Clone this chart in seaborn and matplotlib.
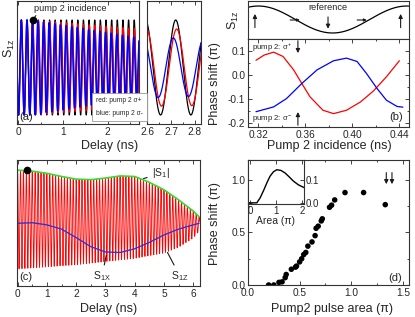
import numpy as np
import matplotlib
matplotlib.use("Agg")
import matplotlib.pyplot as plt
import seaborn as sns
from matplotlib.ticker import MultipleLocator

# ---- panel (a): spin oscillation, pump 2 at 0.32 ns ----
a_period = 0.1263          # ns
a_pump_t = 0.32            # ns
a_end_t = 2.72
a_shift_red = 0.063        # phase shift (pi)
a_shift_blue = -0.156
a_amp_end_red = 0.81
a_amp_end_blue = 0.62

# ---- panel (b): phase shift vs pump 2 incidence ----
b_x_red = [0.318, 0.325, 0.333, 0.341, 0.350, 0.357, 0.364, 0.375, 0.384,
           0.395, 0.407, 0.418, 0.429, 0.440]
b_red = [0.063, 0.085, 0.097, 0.079, 0.023, -0.034, -0.090, -0.146, -0.160,
         -0.146, -0.111, -0.065, -0.006, 0.061]
b_x_blue = [0.318, 0.333, 0.344, 0.357, 0.370, 0.384, 0.395, 0.404, 0.412,
            0.421, 0.429, 0.438, 0.443]
b_blue = [-0.152, -0.132, -0.097, -0.034, 0.023, 0.061, 0.072, 0.058, 0.008,
          -0.055, -0.104, -0.130, -0.133]

# ---- panel (c): S1 components ----
c_period = 0.1
c_t = [0.0, 0.5, 1.0, 1.5, 2.0, 2.5, 3.0, 3.5, 4.0, 4.5, 5.0, 5.5, 6.0, 6.2]
c_abs = [1.00, 0.98, 0.94, 0.88, 0.83, 0.82, 0.85, 0.89, 0.88, 0.77, 0.63, 0.44, 0.23, 0.12]
c_s1x = [0.0, 0.01, -0.03, -0.11, -0.27, -0.44, -0.54, -0.55, -0.48, -0.36, -0.22, -0.11, -0.03, 0.0]
c_low_t = [0.0, 1.0, 2.0, 3.0, 4.0, 5.0, 5.5, 6.0, 6.2]
c_low = [-0.86, -0.82, -0.78, -0.72, -0.66, -0.56, -0.45, -0.28, -0.15]

# ---- panel (d): phase shift vs pump 2 area ----
d_area = [0.20, 0.25, 0.30, 0.33, 0.36, 0.37, 0.42, 0.46, 0.47, 0.50, 0.52,
          0.54, 0.56, 0.58, 0.62, 0.65, 0.66, 0.68, 0.71, 0.72, 0.79, 0.81,
          0.84, 0.94, 1.12, 1.33]
d_shift = [0.0, 0.0, 0.025, 0.03, 0.07, 0.10, 0.15, 0.17, 0.18, 0.22, 0.25,
           0.29, 0.31, 0.37, 0.41, 0.47, 0.54, 0.56, 0.61, 0.63, 0.74, 0.76,
           0.81, 0.88, 0.88, 0.765]
ins_x = [-0.09, 0.0, 0.25, 0.38, 0.51, 0.64, 0.76, 0.89, 1.02, 1.18, 1.34,
         1.50, 1.66, 1.85, 2.07]
ins_y = [0.0, 0.0, 0.0, 0.022, 0.053, 0.087, 0.115, 0.134, 0.143, 0.140,
         0.129, 0.112, 0.094, 0.078, 0.066]

W, H = 415, 317
sns.set_theme(style="ticks")
plt.rcParams['font.family'] = ['Liberation Sans', 'DejaVu Sans']
plt.rcParams.update({
    'mathtext.fontset': 'custom',
    'mathtext.rm': 'Liberation Sans',
    'mathtext.it': 'Liberation Sans:italic',
    'xtick.direction': 'in', 'ytick.direction': 'in',
    'xtick.top': True, 'ytick.right': True,
    'xtick.major.size': 3, 'ytick.major.size': 3,
    'xtick.minor.size': 1.5, 'ytick.minor.size': 1.5,
    'xtick.major.width': 0.6, 'ytick.major.width': 0.6,
    'xtick.minor.width': 0.6, 'ytick.minor.width': 0.6,
    'xtick.major.pad': 2, 'ytick.major.pad': 2,
    'xtick.labelsize': 7.3, 'ytick.labelsize': 7.3,
    'axes.linewidth': 0.8, 'axes.edgecolor': '#333333',
})

fig = plt.figure(figsize=(W / 100, H / 100), dpi=100)


def add_ax(x0, y0, x1, y1):
    return fig.add_axes([x0 / W, 1 - y1 / H, (x1 - x0) / W, (y1 - y0) / H])


def line(ax, x, y, color, lw=0.9):
    sns.lineplot(x=x, y=y, ax=ax, color=color, lw=lw, estimator=None,
                 sort=False, legend=False)


def arrow(ax, start, end, ms=6):
    ax.annotate("", xy=end, xytext=start, xycoords='axes fraction',
                arrowprops=dict(arrowstyle='-|>', lw=0.8, color='k',
                                mutation_scale=ms, shrinkA=0, shrinkB=0))


# ---------- (a) ----------
t = np.linspace(-0.03, 2.83, 5000)
black = np.cos(2 * np.pi * (t - a_pump_t) / a_period)


def pumped(shift_pi, amp_end):
    frac = np.clip((t - a_pump_t) / (a_end_t - a_pump_t), 0, None)
    amp = 1 - (1 - amp_end) * frac
    dt = np.where(t >= a_pump_t, shift_pi / 2 * a_period, 0.0)
    return amp * np.cos(2 * np.pi * (t - a_pump_t - dt) / a_period)


red = pumped(a_shift_red, a_amp_end_red)
blue = pumped(a_shift_blue, a_amp_end_blue)

ax_a = add_ax(17, 1, 139, 124)
ax_a2 = add_ax(147, 1, 201, 124)
for ax, lw_b in ((ax_a, 1.1), (ax_a2, 0.9)):
    line(ax, t, black, 'black')
    line(ax, t, red, 'red')
    line(ax, t, blue, 'blue', lw=lw_b)
    ax.set_ylim(-1.19, 1.40)
    ax.set_yticks([])
    ax.set_xlabel("")
    ax.set_ylabel("")
ax_a.set_xlim(-0.03, 2.70)
ax_a.xaxis.set_major_locator(MultipleLocator(1))
ax_a.xaxis.set_minor_locator(MultipleLocator(0.5))
ax_a2.set_xlim(2.6, 2.825)
ax_a2.set_xticks([2.6, 2.7, 2.8])
ax_a2.xaxis.set_minor_locator(MultipleLocator(0.05))
ax_a.plot([a_pump_t], [1.0], 'o', color='black', ms=4.5, zorder=5)
ax_a.annotate("", xy=(a_pump_t, 1.0), xytext=(0.43, 1.14),
              arrowprops=dict(arrowstyle='-', lw=0.8, color='k'))
ax_a.text(0.35, 1.25, "pump 2 incidence", fontsize=6.7, ha='left', va='center',
          bbox=dict(fc='white', ec='none', pad=0.3))
ax_a.text(0.078, 0.06, "(a)", transform=ax_a.transAxes, fontsize=8,
          ha='center', va='center')
fig.text(96 / W, 1 - 107 / H, "red: pump 2 σ+\nblue: pump 2 σ-", fontsize=4.8,
         ha='left', va='center', linespacing=2.1,
         bbox=dict(boxstyle='square,pad=0.6', fc='white', ec='#999999', lw=0.6))
fig.text(110 / W, 1 - 146 / H, "Delay (ns)", fontsize=9, ha='center', va='center')
fig.text(9 / W, 1 - 48 / H, r"S$_{\mathrm{1z}}$", fontsize=9, rotation=90,
         ha='center', va='center')

# ---------- (b) ----------
ax_b1 = add_ax(248, 1, 409, 39)
tb = np.linspace(0.31, 0.45, 400)
line(ax_b1, tb, np.cos(2 * np.pi * (tb - a_pump_t) / a_period), 'black')
ax_b1.set_xlim(0.3112, 0.4482)
ax_b1.set_ylim(-1.445, 1.372)
ax_b1.set_xticks([])
ax_b1.set_yticks([])
arrow(ax_b1, (0.043, 0.30), (0.043, 0.66))
arrow(ax_b1, (0.948, 0.30), (0.948, 0.66))
arrow(ax_b1, (0.497, 0.58), (0.497, 0.27))
arrow(ax_b1, (0.262, 0.5), (0.322, 0.5), ms=4)
arrow(ax_b1, (0.678, 0.5), (0.738, 0.5), ms=4)
ax_b1.text(0.497, 0.82, "reference", transform=ax_b1.transAxes, fontsize=6.7,
           ha='center', va='center')
fig.text(233 / W, 1 - 20 / H, r"S$_{\mathrm{1z}}$", fontsize=9, rotation=90,
         ha='center', va='center')

ax_b = add_ax(248, 39, 409, 127)
line(ax_b, b_x_red, b_red, 'red')
line(ax_b, b_x_blue, b_blue, 'blue')
ax_b.set_xlim(0.3112, 0.4482)
ax_b.set_ylim(-0.216, 0.152)
ax_b.set_xticks([0.32, 0.36, 0.40, 0.44])
ax_b.set_xticklabels(["0.32", "0.36", "0.40", "0.44"])
ax_b.xaxis.set_minor_locator(MultipleLocator(0.02))
ax_b.set_yticks([-0.2, -0.1, 0.0, 0.1])
ax_b.set_yticklabels(["-0.2", "-0.1", "0.0", "0.1"])
ax_b.yaxis.set_minor_locator(MultipleLocator(0.05))
ax_b.set_xlabel("")
ax_b.set_ylabel("")
ax_b.text(0.025, 0.9, r"pump 2: σ$^{+}$", transform=ax_b.transAxes,
          fontsize=5.6, ha='left', va='center')
ax_b.text(0.025, 0.1, r"pump 2: σ$^{-}$", transform=ax_b.transAxes,
          fontsize=5.6, ha='left', va='center')
arrow(ax_b, (0.31, 0.98), (0.31, 0.84))
arrow(ax_b, (0.31, 0.02), (0.31, 0.17))
ax_b.text(0.92, 0.114, "(b)", transform=ax_b.transAxes, fontsize=8,
          ha='center', va='center')
fig.text(329 / W, 1 - 146 / H, "Pump 2 incidence (ns)", fontsize=9,
         ha='center', va='center')
fig.text(215 / W, 1 - 84 / H, "Phase shift (π)", fontsize=9, rotation=90,
         ha='center', va='center')

# ---------- (c) ----------
tc = np.linspace(0, 6.22, 6000)
up = np.interp(tc, c_t, c_abs)
lo = np.interp(tc, c_low_t, c_low)
s1z = (up + lo) / 2 + (up - lo) / 2 * np.cos(2 * np.pi * tc / c_period)

ax_c = add_ax(17, 160, 200, 286)
line(ax_c, tc, s1z, 'red', lw=0.6)
line(ax_c, c_t, c_s1x, '#3333cc', lw=1.0)
line(ax_c, c_t, c_abs, '#33dd33', lw=1.2)
ax_c.plot([0.32], [1.0], 'o', color='black', ms=4.5, zorder=5)
ax_c.set_xlim(-0.02, 6.23)
ax_c.set_ylim(-1.18, 1.19)
ax_c.set_yticks([])
ax_c.xaxis.set_major_locator(MultipleLocator(1))
ax_c.xaxis.set_minor_locator(MultipleLocator(0.5))
ax_c.set_xlabel("")
ax_c.set_ylabel("")
pointer = dict(arrowstyle='-', lw=0.8, color='k', shrinkA=1, shrinkB=0)
ax_c.annotate("|S$_{1}$|", xy=(4.30, 0.84), xytext=(4.58, 0.94), fontsize=7.5,
              ha='left', va='center', arrowprops=pointer)
ax_c.annotate("S$_{\\mathrm{1X}}$", xy=(3.03, -0.60), xytext=(2.88, -1.0),
              fontsize=7.5, ha='center', va='center', arrowprops=pointer)
ax_c.annotate("S$_{\\mathrm{1Z}}$", xy=(5.12, -0.55), xytext=(5.55, -1.0),
              fontsize=7.5, ha='center', va='center', arrowprops=pointer)
ax_c.text(0.05, 0.07, "(c)", transform=ax_c.transAxes, fontsize=8,
          ha='center', va='center')
fig.text(109 / W, 1 - 309 / H, "Delay (ns)", fontsize=9, ha='center', va='center')

# ---------- (d) ----------
ax_d = add_ax(248, 160, 409, 285)
sns.scatterplot(x=d_area, y=d_shift, ax=ax_d, color='black', s=16,
                edgecolor='none', legend=False)
ax_d.set_xlim(0, 1.56)
ax_d.set_ylim(0, 1.19)
ax_d.xaxis.set_major_locator(MultipleLocator(0.5))
ax_d.xaxis.set_minor_locator(MultipleLocator(0.25))
ax_d.set_xticks([0, 0.5, 1.0, 1.5])
ax_d.set_xticklabels(["0.0", "0.5", "1.0", "1.5"])
ax_d.set_yticks([0, 0.5, 1.0])
ax_d.set_yticklabels(["0.0", "0.5", "1.0"])
ax_d.yaxis.set_minor_locator(MultipleLocator(0.25))
ax_d.set_xlabel("")
ax_d.set_ylabel("")
for xa in (1.34, 1.395):
    ax_d.annotate("", xy=(xa, 0.96), xytext=(xa, 1.07),
                  arrowprops=dict(arrowstyle='-|>', lw=0.8, color='k',
                                  mutation_scale=6, shrinkA=0, shrinkB=0))
ax_d.text(0.916, 0.058, "(d)", transform=ax_d.transAxes, fontsize=8,
          ha='center', va='center')
fig.text(332 / W, 1 - 309 / H, "Pump2 pulse area (π)", fontsize=9,
         ha='center', va='center')
fig.text(215 / W, 1 - 224 / H, "Phase shift (π)", fontsize=9, rotation=90,
         ha='center', va='center')

ax_in = add_ax(248, 160, 304, 204)
line(ax_in, ins_x, ins_y, 'black', lw=1.0)
ax_in.set_xlim(-0.09, 2.07)
ax_in.set_ylim(-0.005, 0.185)
ax_in.set_xticks([0, 1, 2])
ax_in.set_yticks([0.0, 0.1])
ax_in.set_yticklabels(["0.0", "0.1"])
ax_in.tick_params(axis='y', left=True, right=True, labelleft=False, labelright=True)
ax_in.tick_params(labelsize=7, pad=1.5)
ax_in.set_xlabel("Area (π)", fontsize=7.5, labelpad=0)
ax_in.set_ylabel("")

fig.savefig("out.png", dpi=100)
